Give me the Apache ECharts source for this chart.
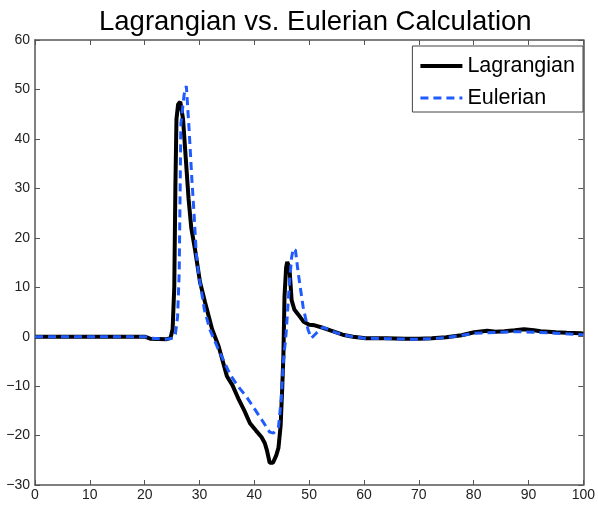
<!DOCTYPE html>
<html><head><meta charset="utf-8">
<script src="https://cdn.jsdelivr.net/npm/echarts@6/dist/echarts.min.js"></script>
<style>html,body{margin:0;padding:0;background:#fff}#c{width:598px;height:506px}</style>
</head><body><div id="c"></div>
<script>
var titleText = 'Lagrangian vs. Eulerian Calculation';
var seriesNames = ['Lagrangian', 'Eulerian'];
var xTicks = [0, 10, 20, 30, 40, 50, 60, 70, 80, 90, 100];
var yTicks = [-30, -20, -10, 0, 10, 20, 30, 40, 50, 60];

var lagX = [0, 20, 21, 24, 24.7, 25.1, 25.4, 25.6, 25.8, 26.1, 26.5, 27.0, 27.5, 28.0, 28.5, 29.2, 30.1, 31.0, 32.3, 33.5, 35.0, 36.0, 37.2, 38.2, 39.2, 40.3, 41.3, 41.9, 42.3, 42.8, 43.4, 44.0, 44.4, 44.8, 45.1, 45.3, 45.5, 45.8, 46.0, 46.4, 46.8, 47.3, 48.0, 49.0, 50.0, 51.0, 52.5, 54.0, 56.1, 58, 60.3, 64, 67.5, 70, 72.4, 75, 77.8, 80.1, 82.5, 84, 85.6, 87.5, 89.2, 91, 92.2, 95, 97, 99.5, 100];
var lagY = [0, 0, -0.4, -0.5, -0.3, 1.5, 10, 30, 44, 47, 47.5, 44, 36, 28, 22, 17.5, 11, 7, 1.5, -2, -8, -9.8, -12.8, -15, -17.5, -19, -20.3, -21.5, -23, -25.5, -25.5, -24, -22.5, -18, -10, -4, 8, 14, 15.1, 14, 7.4, 5.5, 4.5, 3.0, 2.4, 2.3, 1.8, 1.2, 0.4, 0, -0.3, -0.3, -0.4, -0.4, -0.3, -0.1, 0.3, 0.9, 1.2, 1.0, 1.1, 1.3, 1.5, 1.3, 1.1, 0.9, 0.8, 0.7, 0.6];

var eulX = [0, 20, 21, 24, 25.2, 25.6, 26.0, 26.3, 26.6, 27.2, 27.6, 28.1, 28.6, 29.0, 29.4, 29.8, 30.9, 31.9, 33.5, 35.6, 37, 38.6, 41.0, 42.8, 43.5, 44.4, 44.9, 45.3, 45.8, 46.4, 46.8, 47.1, 47.5, 48.0, 48.9, 49.8, 50.4, 51.3, 52.5, 54, 56, 58, 60, 64, 68, 70, 72.4, 75, 78, 80, 82.5, 85, 88, 91, 95, 100];
var eulY = [0, 0, -0.3, -0.5, -0.3, 0.5, 4, 13, 43, 49, 50.7, 42, 32, 25, 17, 13, 5.4, 1.4, -2.7, -7.7, -10, -12.2, -16.2, -19.3, -19.5, -18.3, -12.8, -5, 0.7, 10.8, 16, 17.8, 17.5, 12.9, 6.0, 1.4, -0.3, 0.7, 1.9, 1.2, 0.4, 0, -0.3, -0.4, -0.5, -0.5, -0.4, -0.2, 0.3, 0.7, 0.8, 0.9, 1.0, 0.9, 0.7, 0.4];

function pairs(xs, ys) { return xs.map(function (x, i) { return [x, ys[i]]; }); }

var FONT = 'Liberation Sans';
var axisCol = '#555';
function xAx(pos, labels) {
  return {
    type: 'value', position: pos, min: xTicks[0], max: xTicks[xTicks.length - 1], interval: 10,
    axisLine: { show: true, onZero: false, lineStyle: { color: axisCol, width: 1.5 } },
    axisTick: { show: true, inside: true, length: 5, lineStyle: { color: axisCol } },
    axisLabel: { show: labels, color: '#222', fontFamily: FONT, fontSize: 14, margin: 3 },
    splitLine: { show: false }
  };
}
function yAx(pos, labels) {
  return {
    type: 'value', position: pos, min: yTicks[0], max: yTicks[yTicks.length - 1], interval: 10,
    axisLine: { show: true, onZero: false, lineStyle: { color: axisCol, width: 1.5 } },
    axisTick: { show: true, inside: true, length: 5, lineStyle: { color: axisCol } },
    axisLabel: { show: labels, color: '#222', fontFamily: FONT, fontSize: 14, margin: 5,
      formatter: function (v) { return v < 0 ? '\u2212' + Math.abs(v) : '' + v; } },
    splitLine: { show: false }
  };
}

var chart = echarts.init(document.getElementById('c'), null, { renderer: 'canvas' });
chart.setOption({
  animation: false,
  backgroundColor: '#fff',
  title: { text: titleText, left: 94, top: 3,
    textStyle: { fontFamily: FONT, fontSize: 27.5, fontWeight: 'normal', color: '#000' } },
  grid: { left: 35, top: 40, right: 9, bottom: 21, containLabel: false },
  xAxis: [xAx('bottom', true), xAx('top', false)],
  yAxis: [yAx('left', true), yAx('right', false)],
  legend: {
    right: 15, top: 46, orient: 'vertical', itemWidth: 42, itemHeight: 14, itemGap: 10,
    padding: [9, 8, 3, 6], backgroundColor: '#fff', borderColor: '#444', borderWidth: 1,
    itemStyle: { opacity: 0 },
    textStyle: { fontFamily: FONT, fontSize: 21.5, color: '#000' },
    data: [
      { name: seriesNames[0], lineStyle: { width: 4 } },
      { name: seriesNames[1], lineStyle: { width: 3 } }
    ]
  },
  series: [
    { name: seriesNames[0], type: 'line', xAxisIndex: 0, yAxisIndex: 0, data: pairs(lagX, lagY),
      showSymbol: false, symbol: 'none', lineStyle: { color: '#000', width: 4 }, itemStyle: { color: '#000' }, z: 2 },
    { name: seriesNames[1], type: 'line', xAxisIndex: 0, yAxisIndex: 0, data: pairs(eulX, eulY),
      showSymbol: false, symbol: 'none', lineStyle: { color: '#1f5bff', width: 3, type: [8, 5] }, itemStyle: { color: '#1f5bff' }, z: 3 }
  ]
});
</script></body></html>
